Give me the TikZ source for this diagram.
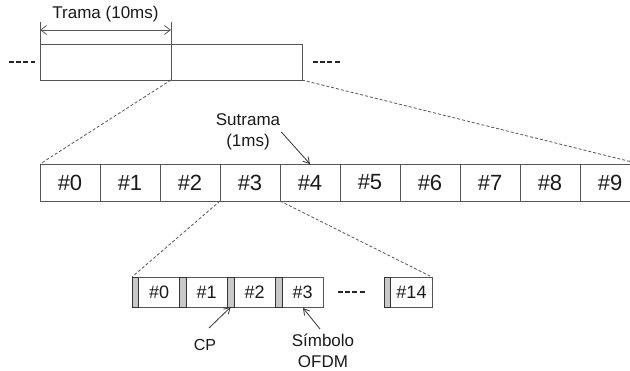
\documentclass[tikz,border=0pt]{standalone}
\usepackage{fontspec}
\setmainfont{Liberation Sans}
\usetikzlibrary{arrows.meta}
\definecolor{ln}{HTML}{555555}
\definecolor{txt}{HTML}{1A1A1A}
\definecolor{cpg}{HTML}{C8C8C8}
\tikzset{
  framebox/.style={draw=ln, line width=0.9pt, minimum width=131pt, minimum height=36pt, inner sep=0pt, outer sep=0pt, anchor=north west},
  subbox/.style={draw=ln, line width=0.9pt, minimum width=60pt, minimum height=37pt, inner sep=0pt, outer sep=0pt, anchor=north west, font=\fontsize{22}{24}\selectfont, text=txt},
  symbox/.style={draw=ln, line width=0.9pt, minimum width=48pt, minimum height=30pt, inner sep=0pt, outer sep=0pt, anchor=north west, font=\fontsize{18}{20}\selectfont, text=txt},
  cpbox/.style={draw=black!80, fill=cpg, line width=0.8pt, minimum width=6.5pt, minimum height=30pt, inner sep=0pt, outer sep=0pt, anchor=north west},
  lbl/.style={font=\fontsize{17}{21}\selectfont, text=txt, align=center, inner sep=1pt},
  zoomline/.style={draw=ln, line width=0.8pt, dash pattern=on 3pt off 2pt},
  gap/.style={draw=black!85, line width=2pt, dash pattern=on 5pt off 2.2pt},
  pointer/.style={draw=black!80, line width=0.8pt, -{Straight Barb[length=6pt,width=7pt]}},
}
\begin{document}
\begin{tikzpicture}[x=1pt, y=-1pt]
\useasboundingbox (0,0) rectangle (630,371);
\clip (0,0) rectangle (630,371);
% top frame
\node[framebox] (f1) at (40,44) {};
\node[framebox] (f2) at (171,44) {};
\coordinate (lg1) at (9,62.5);
\coordinate (lg2) at (35,62.5);
\draw[gap] (lg1) -- (lg2);
\coordinate (rg1) at (313,62.5);
\coordinate (rg2) at (340,62.5);
\draw[gap] (rg1) -- (rg2);
% dimension
\coordinate (d1) at (40,22);
\coordinate (d2) at (171,22);
\draw[ln, line width=0.8pt] (d1) -- (f1.north west);
\draw[ln, line width=0.8pt] (d2) -- (f1.north east);
\coordinate (a1) at (40,30);
\coordinate (a2) at (171,30);
\draw[ln, line width=0.8pt, {Straight Barb[length=6pt,width=9pt]}-{Straight Barb[length=6pt,width=9pt]}] (a1) -- (a2);
\node[lbl] (trama) at (105.5,14) {Trama (10ms)};
% subframes
\foreach \i in {0,...,9} {
  \node[subbox] (s\i) at ({40+60*\i},164) {\#\i};
}
\draw[zoomline] (f1.south east) -- (s0.north west);
\draw[zoomline] (f2.south east) -- (s9.north east);
\node[lbl] (sut) at (248,132) {Sutrama\\(1ms)};
\draw[pointer] (sut.east) -- (s4.north);
% symbols
\foreach \i/\x in {0/132,1/179.5,2/227.5,3/275.5} {
  \node[symbox] (o\i) at (\x,277) {\hspace*{6.5pt}\#\i};
  \node[cpbox] (cp\i) at (\x,277) {};
}
\node[symbox] (o14) at (384,277) {\hspace*{7pt}\#14};
\node[cpbox] (cp14) at (384,277) {};
\coordinate (bg1) at (338,292.5);
\coordinate (bg2) at (366,292.5);
\draw[gap] (bg1) -- (bg2);
\draw[zoomline] (s3.south west) -- (o0.north west);
\draw[zoomline] (s3.south east) -- (o14.north east);
\node[lbl, font=\fontsize{16}{19}\selectfont] (cp) at (205,345) {CP};
\coordinate (cpa) at (209,328);
\draw[pointer] (cpa) -- (cp2.south);
\node[lbl] (sym) at (323,351) {Símbolo\\OFDM};
\coordinate (syma) at (320,329);
\coordinate (symb) at (303,308);
\draw[pointer] (syma) -- (symb);
\end{tikzpicture}
\end{document}
